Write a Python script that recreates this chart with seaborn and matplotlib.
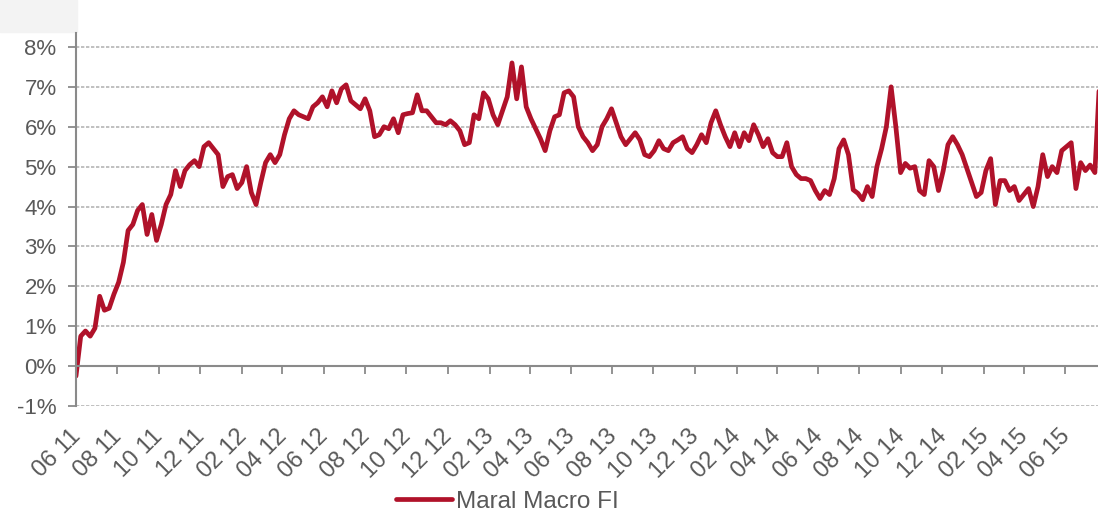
import pandas as pd
import matplotlib.pyplot as plt
import matplotlib.dates as mdates
import matplotlib.transforms as mtransforms
from matplotlib.ticker import FuncFormatter
import seaborn as sns

# Weekly values (%), starting 1 June 2011
start_date = '2011-06-01'
values = [
    -0.25, 0.75, 0.88, 0.75, 0.95, 1.75, 1.4, 1.45, 1.8, 2.1,
    2.6, 3.4, 3.55, 3.9, 4.05, 3.3, 3.8, 3.15, 3.55, 4.05,
    4.3, 4.9, 4.5, 4.9, 5.05, 5.15, 5.0, 5.5, 5.6, 5.45,
    5.3, 4.5, 4.75, 4.8, 4.45, 4.6, 5.0, 4.35, 4.05, 4.6,
    5.1, 5.3, 5.1, 5.3, 5.8, 6.2, 6.4, 6.3, 6.25, 6.2,
    6.5, 6.6, 6.75, 6.5, 6.9, 6.6, 6.95, 7.05, 6.65, 6.55,
    6.45, 6.7, 6.4, 5.75, 5.8, 6.0, 5.95, 6.2, 5.85, 6.3,
    6.33, 6.35, 6.8, 6.4, 6.4, 6.25, 6.1, 6.1, 6.05, 6.15,
    6.05, 5.9, 5.55, 5.6, 6.3, 6.2, 6.85, 6.7, 6.3, 6.05,
    6.4, 6.75, 7.6, 6.7, 7.5, 6.5, 6.2, 5.95, 5.7, 5.4,
    5.9, 6.25, 6.3, 6.85, 6.9, 6.75, 6.0, 5.75, 5.6, 5.4,
    5.55, 6.0, 6.2, 6.45, 6.1, 5.75, 5.55, 5.7, 5.85, 5.67,
    5.3, 5.25, 5.4, 5.65, 5.45, 5.4, 5.6, 5.67, 5.75, 5.45,
    5.35, 5.55, 5.8, 5.6, 6.1, 6.4, 6.05, 5.75, 5.5, 5.85,
    5.5, 5.85, 5.65, 6.05, 5.8, 5.5, 5.7, 5.35, 5.25, 5.25,
    5.6, 5.0, 4.8, 4.7, 4.7, 4.65, 4.4, 4.2, 4.4, 4.3,
    4.7, 5.45, 5.67, 5.3, 4.42, 4.33, 4.17, 4.5, 4.25, 5.0,
    5.45, 6.0, 7.0, 6.0, 4.85, 5.08, 4.96, 5.0, 4.4, 4.3,
    5.15, 5.0, 4.4, 4.9, 5.55, 5.75, 5.55, 5.3, 4.95, 4.6,
    4.25, 4.35, 4.9, 5.2, 4.05, 4.65, 4.65, 4.4, 4.5, 4.15,
    4.3, 4.45, 4.0, 4.5, 5.3, 4.75, 5.0, 4.85, 5.4, 5.5,
    5.6, 4.45, 5.1, 4.9, 5.04, 4.85, 7.2,
]
y_ticks = list(range(-1, 9))
series_name = 'Maral Macro FI'

df = pd.DataFrame({
    'date': pd.date_range(start_date, periods=len(values), freq='7D'),
    'value': values,
})

sns.set_style('white')
plt.rcParams['font.family'] = ['Liberation Sans', 'DejaVu Sans']
text_color = '#595959'
axis_color = '#8a8a8a'
red = '#b0122a'

fig = plt.figure(figsize=(10.98, 5.13), dpi=100)
ax = fig.add_axes([0.0692, 0.2086, 0.9308, 0.7271])

# faint grey block in the top left corner of the original image
fig.add_artist(plt.Rectangle((0, 1 - 32 / 513), 77 / 1098, 32 / 513,
                             transform=fig.transFigure, color='#f3f3f3', zorder=0))

sns.lineplot(x='date', y='value', data=df, ax=ax, color=red, linewidth=3.4,
             label=series_name, legend=False)

ax.set_xlim(pd.Timestamp(start_date), pd.Timestamp(start_date) + pd.Timedelta(days=1509.6))
ax.set_ylim(-1, 8.35)
ax.set_yticks(y_ticks)
ax.yaxis.set_major_formatter(FuncFormatter(lambda v, p: f'{int(v)}%'))
ax.xaxis.set_major_locator(mdates.MonthLocator(bymonth=[2, 4, 6, 8, 10, 12]))
ax.xaxis.set_major_formatter(mdates.DateFormatter('%m %y'))
ax.set_xlabel('')
ax.set_ylabel('')

# dotted gridlines
for v in y_ticks:
    if v != 0:
        ax.axhline(v, color='#b5b5b5', linewidth=1.2, linestyle=(0, (2, 1)), zorder=0)

for side in ['top', 'right']:
    ax.spines[side].set_visible(False)
ax.spines['left'].set_color(axis_color)
ax.spines['left'].set_linewidth(1.5)
ax.spines['bottom'].set_position(('data', 0))
ax.spines['bottom'].set_color(axis_color)
ax.spines['bottom'].set_linewidth(1.5)

ax.tick_params(axis='y', direction='out', length=6, width=1.3, color=axis_color,
               labelsize=16, labelcolor=text_color, pad=8, left=True)
ax.tick_params(axis='x', direction='out', length=5.5, width=1.3, color=axis_color,
               labelsize=17, labelcolor=text_color, pad=37, bottom=True)
shift = mtransforms.ScaledTranslation(6.5 / 72, 0, fig.dpi_scale_trans)
for lab in ax.get_xticklabels():
    lab.set_rotation(45)
    lab.set_ha('right')
    lab.set_transform(lab.get_transform() + shift)

fig.legend(loc='center', bbox_to_anchor=(0.462, 0.022), frameon=False,
           fontsize=17.5, handlelength=2.3, handletextpad=0.15,
           labelcolor=text_color)

plt.savefig('out.png', dpi=100)
